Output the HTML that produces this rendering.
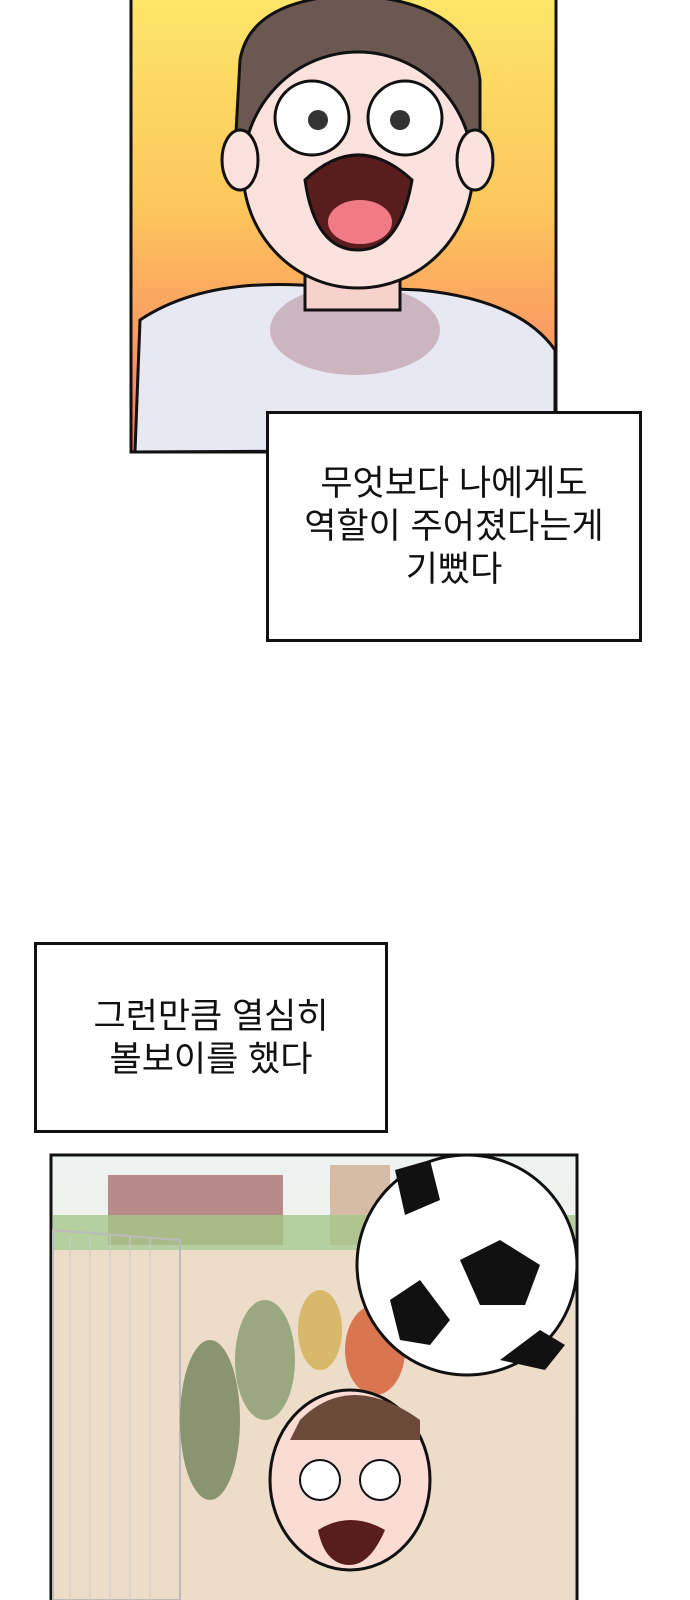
<!DOCTYPE html>
<html><head><meta charset="utf-8"><style>
html,body{margin:0;padding:0;background:#fff;}
body{width:690px;height:1600px;position:relative;overflow:hidden;font-family:"Liberation Sans","Noto Sans CJK KR",sans-serif;}
.box{position:absolute;background:#fff;border:3px solid #111;box-sizing:border-box;display:flex;align-items:center;justify-content:center;text-align:center;font-size:35px;line-height:43px;color:#111;}
</style></head><body>
<svg width="690" height="1600" style="position:absolute;left:0;top:0">
<defs>
<linearGradient id="g1" x1="0" y1="0" x2="0" y2="1">
<stop offset="0" stop-color="#fde66a"/><stop offset="0.45" stop-color="#fcc85a"/><stop offset="1" stop-color="#f8766a"/></linearGradient>
<linearGradient id="sky" x1="0" y1="0" x2="0" y2="1"><stop offset="0" stop-color="#eef2f0"/><stop offset="1" stop-color="#f4efe6"/></linearGradient>
</defs>
<rect x="131" y="-3" width="425" height="455" fill="url(#g1)" stroke="#111" stroke-width="3"/>
<path d="M135 452 L140 320 Q200 280 300 285 L420 290 Q520 300 555 350 L555 450 Z" fill="#e8e8f2" stroke="#111" stroke-width="3"/>
<ellipse cx="355" cy="330" rx="85" ry="45" fill="#cbb5be"/>
<rect x="305" y="250" width="95" height="60" fill="#f5d3cc" stroke="#111" stroke-width="3"/>
<path d="M240 60 Q250 0 350 -5 Q470 0 480 80 L480 150 L235 150 Z" fill="#6b5850" stroke="#111" stroke-width="3"/>
<ellipse cx="358" cy="170" rx="115" ry="118" fill="#fbe2dc" stroke="#111" stroke-width="3"/>
<ellipse cx="240" cy="160" rx="18" ry="30" fill="#fbe2dc" stroke="#111" stroke-width="3"/>
<ellipse cx="475" cy="160" rx="18" ry="30" fill="#fbe2dc" stroke="#111" stroke-width="3"/>
<circle cx="312" cy="118" r="37" fill="#fff" stroke="#111" stroke-width="3"/>
<circle cx="405" cy="118" r="37" fill="#fff" stroke="#111" stroke-width="3"/>
<circle cx="318" cy="120" r="10" fill="#333"/><circle cx="400" cy="120" r="10" fill="#333"/>
<path d="M305 180 Q358 130 412 180 Q400 250 358 250 Q315 250 305 180 Z" fill="#5a1d1d" stroke="#111" stroke-width="3"/>
<ellipse cx="360" cy="222" rx="32" ry="22" fill="#f07a86"/>
<rect x="51" y="1155" width="526" height="450" fill="url(#sky)" stroke="#111" stroke-width="3"/>
<rect x="108" y="1175" width="175" height="70" fill="#b88a8a"/>
<rect x="330" y="1165" width="60" height="80" fill="#d6bba5"/>
<rect x="53" y="1215" width="522" height="40" fill="#a6c78a" opacity="0.8"/>
<path d="M53 1250 L575 1250 L575 1600 L53 1600 Z" fill="#ecdcc8"/>
<path d="M53 1230 L180 1240 L180 1600 L53 1600 Z" fill="none" stroke="#bbb" stroke-width="2"/>
<g stroke="#ccc" stroke-width="1">
<line x1="70" y1="1235" x2="70" y2="1600"/><line x1="90" y1="1235" x2="90" y2="1600"/><line x1="110" y1="1235" x2="110" y2="1600"/><line x1="130" y1="1237" x2="130" y2="1600"/><line x1="150" y1="1238" x2="150" y2="1600"/>
</g>
<ellipse cx="210" cy="1420" rx="30" ry="80" fill="#8a9470"/>
<ellipse cx="265" cy="1360" rx="30" ry="60" fill="#9aa882"/>
<ellipse cx="320" cy="1330" rx="22" ry="40" fill="#d8b86a"/>
<ellipse cx="375" cy="1350" rx="30" ry="45" fill="#d97650"/>
<ellipse cx="350" cy="1480" rx="80" ry="90" fill="#fbdcd4" stroke="#111" stroke-width="3"/>
<path d="M300 1420 Q350 1370 420 1420 L420 1440 L290 1440 Z" fill="#6b4a3a"/>
<circle cx="320" cy="1480" r="20" fill="#fff" stroke="#111" stroke-width="2"/>
<circle cx="380" cy="1480" r="20" fill="#fff" stroke="#111" stroke-width="2"/>
<path d="M318 1530 Q350 1510 385 1530 Q370 1565 350 1565 Q325 1565 318 1530Z" fill="#5a1d1d"/>
<circle cx="467" cy="1265" r="110" fill="#fff" stroke="#111" stroke-width="3"/>
<polygon points="460,1260 500,1240 540,1265 525,1305 480,1305" fill="#111"/>
<polygon points="390,1300 420,1280 450,1320 430,1345 400,1340" fill="#111"/>
<polygon points="395,1170 430,1160 440,1200 405,1215" fill="#111"/>
<polygon points="500,1360 540,1330 565,1345 545,1370" fill="#111"/>
</svg>
<div class="box" style="left:266px;top:411px;width:376px;height:231px;">무엇보다 나에게도<br>역할이 주어졌다는게<br>기뻤다</div>
<div class="box" style="left:34px;top:942px;width:354px;height:191px;">그런만큼 열심히<br>볼보이를 했다</div>
</body></html>
